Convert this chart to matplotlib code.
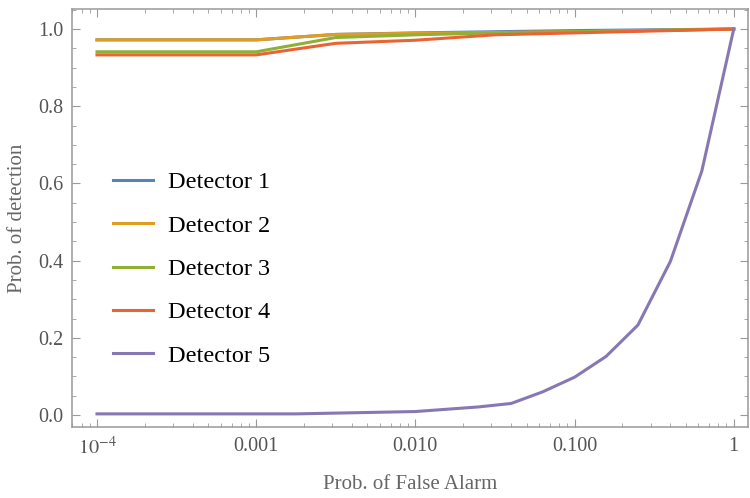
import numpy as np
import matplotlib
matplotlib.use("Agg")
import matplotlib.pyplot as plt
from matplotlib.ticker import FixedLocator, MultipleLocator, LogLocator, NullFormatter

plt.rcParams['font.family'] = ['Liberation Serif', 'DejaVu Serif']
plt.rcParams['mathtext.fontset'] = 'stix'

# false alarm grid for detectors 1-4
pfa_top = [1e-4, 1e-3, 0.00316, 0.01, 0.0316, 0.1, 1.0]
det1 = [0.972, 0.972, 0.986, 0.990, 0.993, 0.996, 1.0]
det2 = [0.972, 0.972, 0.986, 0.989, 0.991, 0.993, 1.0]
det3 = [0.941, 0.941, 0.978, 0.985, 0.990, 0.993, 1.0]
det4 = [0.933, 0.933, 0.963, 0.971, 0.985, 0.990, 1.0]

# detector 5
pfa5 = [1e-4, 1e-3, 0.0018, 0.01, 0.025, 0.04, 0.063, 0.1, 0.158, 0.25, 0.4, 0.63, 1.0]
det5 = [0.003, 0.003, 0.003, 0.009, 0.021, 0.030, 0.060, 0.098, 0.152, 0.233, 0.398, 0.632, 1.0]

labels = ["Detector 1", "Detector 2", "Detector 3", "Detector 4", "Detector 5"]
colors = ["#5E81B5", "#E19C24", "#8FB032", "#EB6235", "#8778B3"]
tick_vals = [1e-4, 1e-3, 1e-2, 1e-1, 1]
tick_labels = [r"$10^{-4}$", "0.001", "0.010", "0.100", "1"]

fig = plt.figure(figsize=(7.5, 4.98), dpi=100)
ax = fig.add_axes([0.096, 0.1426, 0.901, 0.8394])

for y, lab, c in zip([det1, det2, det3, det4], labels[:4], colors[:4]):
    ax.plot(pfa_top, y, color=c, lw=2.2, label=lab, solid_joinstyle='round')
ax.plot(pfa5, det5, color=colors[4], lw=2.2, label=labels[4], solid_joinstyle='round')

ax.set_xscale('log')
ax.set_xlim(10**-4.157, 10**0.088)
ax.set_ylim(-0.031, 1.052)

ax.xaxis.set_major_locator(FixedLocator(tick_vals))
ax.set_xticklabels(tick_labels)
ax.xaxis.set_minor_locator(LogLocator(base=10, subs=np.arange(2, 10)))
ax.xaxis.set_minor_formatter(NullFormatter())
ax.yaxis.set_major_locator(MultipleLocator(0.2))
ax.yaxis.set_minor_locator(MultipleLocator(0.05))
ax.yaxis.set_major_formatter(matplotlib.ticker.FormatStrFormatter('%.1f'))

gray = "#999999"
for s in ax.spines.values():
    s.set_color(gray)
    s.set_linewidth(1.1)
ax.tick_params(which='both', direction='in', top=True, right=True, color=gray,
               labelcolor="#555555", labelsize=14.5)
ax.tick_params(which='major', length=6, width=0.8)
ax.tick_params(which='minor', length=3, width=0.6)
ax.tick_params(axis='x', pad=7)
ax.tick_params(axis='y', pad=6)

ax.set_xlabel("Prob. of False Alarm", color="#666666", fontsize=15, labelpad=12)
ax.set_ylabel("Prob. of detection", color="#666666", fontsize=15, labelpad=8)

ax.legend(loc='center left', bbox_to_anchor=(113 / 750, 1 - 269 / 498),
          bbox_transform=fig.transFigure, frameon=False, fontsize=17.5,
          handlelength=1.65, handletextpad=0.6, labelspacing=0.88,
          borderpad=0, borderaxespad=0)

fig.savefig("out.png", dpi=100)
